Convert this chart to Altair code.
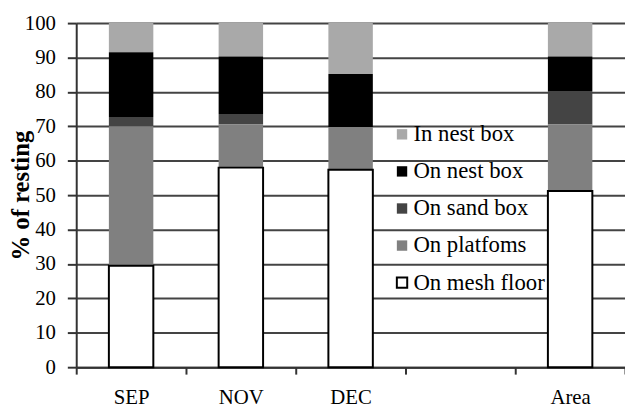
import altair as alt
import pandas as pd

months = ["SEP", "NOV", "DEC", "Area"]
x_domain = ["SEP", "NOV", "DEC", " ", "Area"]
categories = ["In nest box", "On nest box", "On sand box", "On platfoms", "On mesh floor"]
stack_rank = [4, 3, 2, 1, 0]
fill_colors = ["#a9a9a9", "#000000", "#444444", "#808080", "#ffffff"]
stroke_colors = ["transparent", "transparent", "transparent", "transparent", "#000000"]

in_nest_box = [8.5, 9.7, 14.8, 9.7]
on_nest_box = [18.8, 16.7, 15.4, 10.0]
on_sand_box = [2.7, 3.1, 0.0, 9.8]
on_platforms = [40.5, 12.5, 12.4, 19.3]
on_mesh_floor = [29.5, 58.0, 57.4, 51.2]

series = [in_nest_box, on_nest_box, on_sand_box, on_platforms, on_mesh_floor]
rows = []
for cat, rank, vals in zip(categories, stack_rank, series):
    for m, v in zip(months, vals):
        rows.append({"month": m, "cat": cat, "rank": rank, "value": v})
df = pd.DataFrame(rows)

FONT = "Liberation Serif"

chart = alt.Chart(df).mark_bar(width={"band": 0.405}, strokeWidth=2).encode(
    x=alt.X("month:N", sort=x_domain,
            scale=alt.Scale(domain=x_domain, paddingInner=0, paddingOuter=0),
            axis=alt.Axis(title=None, labelAngle=0, tickBand="extent", labelFont=FONT,
                          labelFontSize=21, labelColor="#000", labelPadding=13,
                          tickSize=7, tickColor="#333", tickWidth=2,
                          domainColor="#333", domainWidth=2, grid=False)),
    y=alt.Y("value:Q", stack="zero",
            scale=alt.Scale(domain=[0, 100], nice=False),
            axis=alt.Axis(title="% of resting", values=list(range(0, 101, 10)),
                          titleFont=FONT, titleFontSize=25, titleFontWeight="bold",
                          titleColor="#000", titlePadding=-9,
                          labelFont=FONT, labelFontSize=21, labelColor="#000",
                          labelPadding=12, tickSize=9, tickColor="#333", tickWidth=2,
                          domainColor="#333", domainWidth=2,
                          grid=True, gridColor="#444", gridWidth=2)),
    fill=alt.Fill("cat:N", scale=alt.Scale(domain=categories, range=fill_colors),
                  legend=alt.Legend(title=None, orient="none", legendX=318, legendY=101,
                                    labelFont=FONT, labelFontSize=23, labelColor="#000",
                                    symbolType="square", symbolSize=110,
                                    symbolStrokeWidth=2, rowPadding=13.5,
                                    labelOffset=0, symbolOpacity=1)),
    stroke=alt.Stroke("cat:N", scale=alt.Scale(domain=categories, range=stroke_colors)),
    order=alt.Order("rank:Q", sort="ascending"),
).properties(
    width=555, height=348,
    autosize=alt.AutoSizeParams(type="none"),
    padding={"left": 69, "top": 13, "right": 0, "bottom": 39},
).configure_view(stroke=None).configure(background="white")

chart.save("out.html", embed_options={"renderer": "svg", "actions": False})
